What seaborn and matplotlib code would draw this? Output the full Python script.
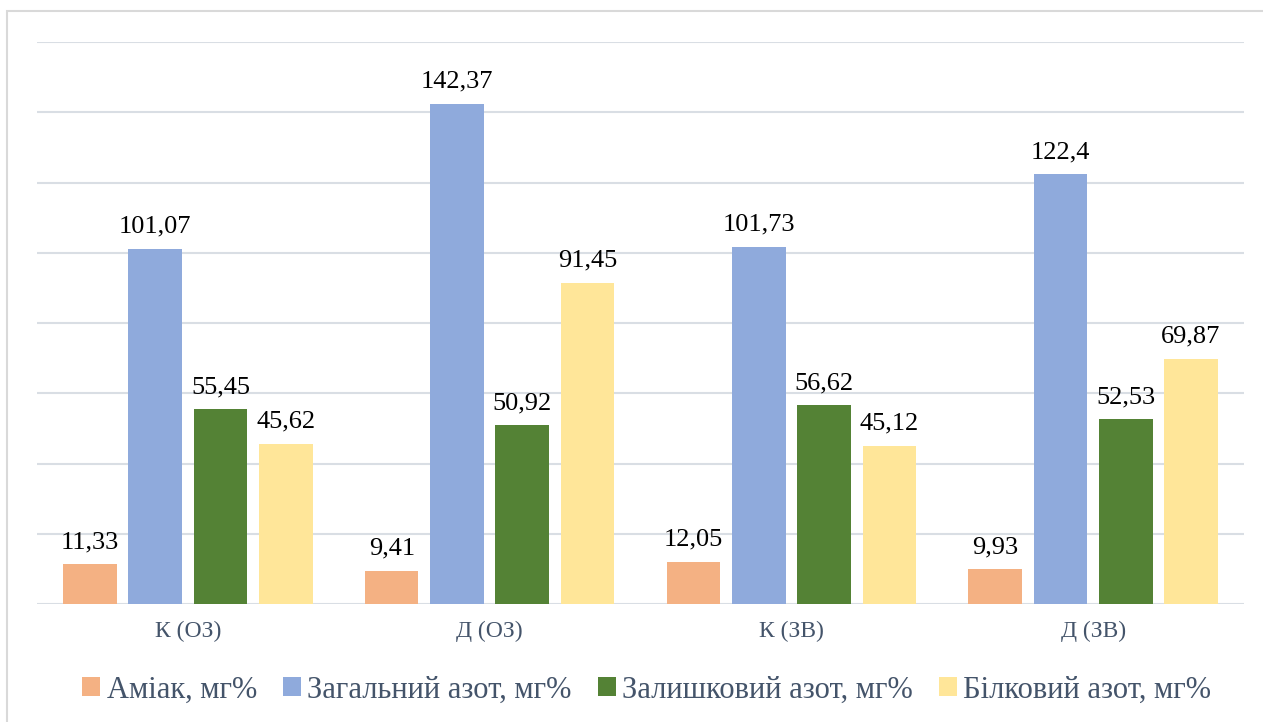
import pandas as pd
import seaborn as sns
import matplotlib.pyplot as plt
from matplotlib.patches import Rectangle


groups = ['К (ОЗ)', 'Д (ОЗ)', 'К (ЗВ)', 'Д (ЗВ)']
series = ['Аміак, мг%', 'Загальний азот, мг%',
          'Залишковий азот, мг%', 'Білковий азот, мг%']
ammonia = [11.33, 9.41, 12.05, 9.93]
total_n = [101.07, 142.37, 101.73, 122.4]
residual_n = [55.45, 50.92, 56.62, 52.53]
protein_n = [45.62, 91.45, 45.12, 69.87]
colors = ['#F4B183', '#8FAADC', '#548235', '#FFE699']

# long format for seaborn
rows = []
for name, vals in zip(series, [ammonia, total_n, residual_n, protein_n]):
    for g, v in zip(groups, vals):
        rows.append({'group': g, 'series': name, 'value': v})
df = pd.DataFrame(rows)

sns.set_style('white')
plt.rcParams['font.family'] = ['Liberation Serif', 'DejaVu Serif']
text_color = '#44546A'

fig = plt.figure(figsize=(12.63, 7.22), dpi=100)
ax = fig.add_axes([37 / 1263, 1 - 604 / 722, (1244 - 37) / 1263, (604 - 42) / 722])

sns.barplot(data=df, x='group', y='value', hue='series', order=groups,
            hue_order=series, palette=colors, width=0.865, gap=0.18,
            linewidth=0, saturation=1, ax=ax)

for cont in ax.containers:
    labels = [f'{b.get_height():g}'.replace('.', ',') for b in cont]
    ax.bar_label(cont, labels=labels, padding=8, fontsize=19, color='black')

ax.set_ylim(0, 160)
ax.set_xlim(-0.5, 3.5)
ax.set_yticks(range(0, 161, 20))
ax.set_yticklabels([])
ax.yaxis.grid(True, color='#D9DEE4', linewidth=1.5)
ax.set_axisbelow(True)
ax.tick_params(axis='both', length=0)
ax.tick_params(axis='x', pad=12, labelsize=17, labelcolor=text_color)
ax.set_xlabel('')
ax.set_ylabel('')
for s in ax.spines.values():
    s.set_visible(False)

handles, labels = ax.get_legend_handles_labels()
ax.get_legend().remove()
fig.legend(handles, labels, loc='center',
           bbox_to_anchor=(0.512, 1 - 690 / 722),
           ncol=4, frameon=False, fontsize=22, labelcolor=text_color,
           handlelength=0.6, handleheight=0.6, handletextpad=0.2,
           columnspacing=0.85)

# chart border
fig.patches.append(Rectangle((7 / 1263, -0.02), 1.0, 1 - 11 / 722 + 0.02,
                             transform=fig.transFigure, fill=False,
                             edgecolor='#D9D9D9', linewidth=1.5))

fig.savefig('out.png', dpi=100)
